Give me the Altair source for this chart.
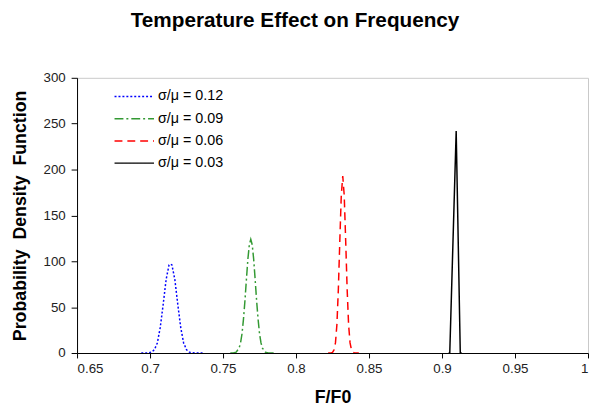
import altair as alt
import pandas as pd

labels = ["σ/μ = 0.12", "σ/μ = 0.09", "σ/μ = 0.06", "σ/μ = 0.03"]
colors = ["#0000FF", "#339933", "#FF0000", "#000000"]
dashes = [[2, 2], [9, 3, 2, 3], [8, 5], [1, 0]]

# sigma/mu = 0.12
x_012 = [0.694, 0.697, 0.699, 0.701, 0.703, 0.705, 0.707, 0.709, 0.711, 0.713, 0.714,
         0.715, 0.717, 0.719, 0.721, 0.723, 0.725, 0.727, 0.729, 0.731, 0.733, 0.736]
y_012 = [0, 0, 0.2, 0.9, 3.6, 11, 28, 53, 80, 96, 97,
         96, 80, 53, 28, 11, 3.6, 0.9, 0.2, 0, 0, 0]

# sigma/mu = 0.09
x_009 = [0.755, 0.757, 0.759, 0.761, 0.762, 0.763, 0.764, 0.765, 0.766, 0.767, 0.768, 0.769,
         0.770, 0.771, 0.772, 0.773, 0.774, 0.775, 0.776, 0.777, 0.779, 0.781, 0.783, 0.785]
y_009 = [0, 0.1, 0.9, 5.4, 11, 21, 37, 57, 80, 102, 118, 124,
         118, 102, 80, 57, 37, 21, 11, 5.4, 0.9, 0.1, 0, 0]

# sigma/mu = 0.06
x_006 = [0.822, 0.824, 0.825, 0.826, 0.827, 0.828, 0.829, 0.830, 0.831, 0.832,
         0.833, 0.834, 0.835, 0.836, 0.837, 0.838, 0.839, 0.840, 0.841, 0.843]
y_006 = [0, 0.15, 0.75, 3.3, 11, 31, 70, 123, 172, 193,
         172, 123, 70, 31, 11, 3.3, 0.75, 0.15, 0, 0]

# sigma/mu = 0.03
x_003 = [0.9045, 0.9053, 0.9097, 0.9125, 0.9135]
y_003 = [0, 0, 242, 0, 0]

x_ticks = [0.65, 0.7, 0.75, 0.8, 0.85, 0.9, 0.95, 1.0]
y_ticks = [0, 50, 100, 150, 200, 250, 300]

rows = []
for lab, xs, ys in zip(labels, [x_012, x_009, x_006, x_003], [y_012, y_009, y_006, y_003]):
    for xv, yv in zip(xs, ys):
        rows.append({"series": lab, "x": xv, "y": yv})
df = pd.DataFrame(rows)

font = "Liberation Sans"

chart = alt.Chart(df).mark_line(strokeWidth=1.5, clip=True).encode(
    x=alt.X("x:Q", title="F/F0",
            scale=alt.Scale(domain=[0.65, 1.0], nice=False, zero=False),
            axis=alt.Axis(values=x_ticks, format="~g", tickSize=5, labelPadding=4,
                          titlePadding=14)),
    y=alt.Y("y:Q", title="Probability\u00a0\u00a0Density\u00a0\u00a0Function",
            scale=alt.Scale(domain=[0, 300], nice=False),
            axis=alt.Axis(values=y_ticks, tickSize=6, labelPadding=6, titlePadding=14)),
    color=alt.Color("series:N", sort=labels,
                    scale=alt.Scale(domain=labels, range=colors),
                    legend=alt.Legend(title=None, orient="none", legendX=47, legendY=8,
                                      symbolType="M-2,0H2", symbolSize=400,
                                      symbolStrokeWidth=1.5, labelFontSize=14.5,
                                      labelColor="#000000", labelFont=font,
                                      rowPadding=4.5, labelOffset=13, padding=0)),
    strokeDash=alt.StrokeDash("series:N", sort=labels,
                              scale=alt.Scale(domain=labels, range=dashes),
                              legend=None),
    order=alt.Order("x:Q"),
).properties(
    width=518,
    height=279,
    background="white",
    autosize=alt.AutoSizeParams(type="none"),
    padding={"left": 70, "top": 68, "right": 1, "bottom": 55},
    title=alt.TitleParams("Temperature Effect on Frequency", font=font, fontSize=21,
                          fontWeight="bold", color="#000000", anchor="middle",
                          dx=-38, offset=41),
).configure_view(
    stroke="#C8C8C8", strokeWidth=1
).configure_axis(
    grid=False,
    domainColor="#000000",
    tickColor="#000000",
    labelFont=font,
    labelFontSize=13.5,
    labelColor="#222222",
    titleFont=font,
    titleFontSize=18,
    titleFontWeight="bold",
    titleColor="#000000",
)

chart.save("out.html", embed_options={"renderer": "svg", "actions": False})
